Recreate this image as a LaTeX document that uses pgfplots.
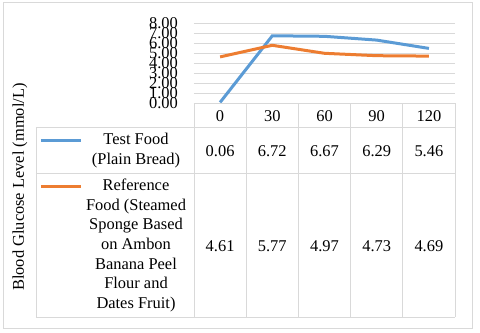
\documentclass[border=0pt]{standalone}
\usepackage{fontspec}
\setmainfont{Liberation Serif}
\usepackage{pgfplots}
\pgfplotsset{compat=1.18}
\definecolor{testc}{HTML}{5B9BD5}
\definecolor{refc}{HTML}{ED7D31}
\definecolor{gridc}{HTML}{D9D9D9}
\newcommand{\chartfont}{\fontsize{16.5}{19.8}\selectfont}
\begin{document}
\chartfont
\begin{tikzpicture}
\useasboundingbox (-194bp,103bp) rectangle (286bp,-230bp);
\draw[gridc, line width=1bp] (-190bp,100bp) rectangle (278bp,-225bp);
\begin{axis}[
    at={(0,0)}, anchor=south west,
    scale only axis, width=261bp, height=80bp,
    xmin=-0.5, xmax=4.5, ymin=0, ymax=8,
    xtick=\empty, ytick={0,1,...,8},
    axis line style={draw=none},
    major tick length=0pt,
    ymajorgrids, grid style={gridc, line width=0.75bp},
    yticklabel style={font=\chartfont, anchor=east, inner sep=0pt, xshift=-16bp},
    /pgf/number format/.cd, fixed, fixed zerofill, precision=2, assume math mode=true,
]
\addplot[testc, line width=3bp] coordinates {(0,0.06) (1,6.72) (2,6.67) (3,6.29) (4,5.46)};
\addplot[refc, line width=3bp] coordinates {(0,4.61) (1,5.77) (2,4.97) (3,4.73) (4,4.69)};
\end{axis}
% data table under the plot
\begin{scope}[x=1bp, y=1bp]
\draw[gridc, line width=0.75bp] (0,0) -- (261,0);
\draw[gridc, line width=0.75bp] (-158,-24) -- (261,-24);
\draw[gridc, line width=0.75bp] (-158,-70) -- (261,-70);
\draw[gridc, line width=0.75bp] (-158,-214) -- (261,-214);
\draw[gridc, line width=0.75bp] (-158,-24) -- (-158,-214);
\foreach \i in {0,...,5} {
  \draw[gridc, line width=0.75bp] (52.2*\i,0) -- (52.2*\i,-214);
}
\foreach \lab [count=\i from 0] in {0,30,60,90,120} {
  \node at (26.1+52.2*\i,-13) {\lab};
}
\foreach \v [count=\i from 0] in {0.06,6.72,6.67,6.29,5.46} {
  \node at (26.1+52.2*\i,-48) {\v};
}
\foreach \v [count=\i from 0] in {4.61,5.77,4.97,4.73,4.69} {
  \node at (26.1+52.2*\i,-143) {\v};
}
\draw[testc, line width=3bp] (-153,-37) -- (-113,-37);
\draw[refc, line width=3bp] (-153,-83) -- (-113,-83);
\node[align=center, inner sep=0pt] at (-58,-47.5) {Test Food\\(Plain Bread)};
\node[align=center, inner sep=0pt] at (-58,-142.5)
  {Reference\\Food (Steamed\\Sponge Based\\on Ambon\\Banana Peel\\Flour and\\Dates Fruit)};
\node[rotate=90] at (-174,-84) {Blood Glucose Level (mmol/L)};
\end{scope}
\end{tikzpicture}
\end{document}
